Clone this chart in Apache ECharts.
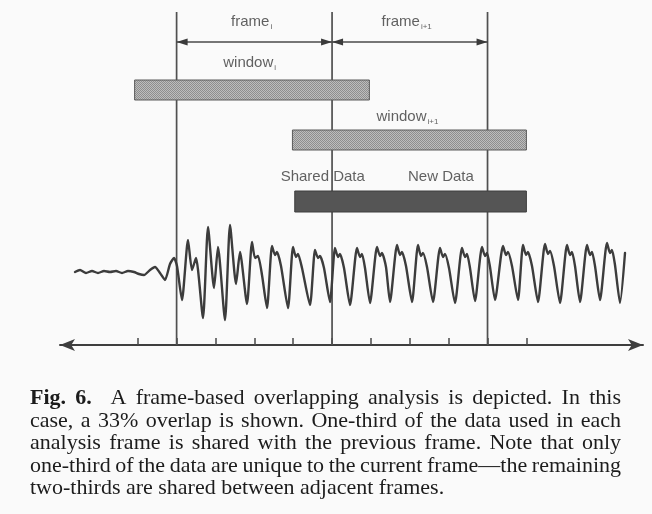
<!DOCTYPE html>
<html><head><meta charset="utf-8">
<script src="https://cdn.jsdelivr.net/npm/echarts@6/dist/echarts.min.js"></script>
<style>html,body{margin:0;padding:0;background:#fafafa}#c{width:652px;height:514px}</style>
</head><body><div id="c"></div>
<script>
// ---------- DATA ----------
// frame axis (tick units)
const tickValues = [0, 1, 2, 3, 4, 5, 6, 7, 8, 9, 10];
const frameEdges = [1, 5, 9];
const frameEdgeTop = 33.3;
const frameSpans = [[1, 5], [5, 9]];
const frameArrowLevel = 30.3;
const windowSpans = [[-0.08, 5.96], [3.98, 10.0]];
const windowLevels = [25.5, 20.5];
const dataBarSpan = [4.04, 10.0];
const dataBarLevel = 14.35;
// text labels
const labelMain = ['frame', 'frame', 'window', 'window', 'Shared Data', 'New Data'];
const labelSub = ['i', 'i+1', 'i', 'i+1', '', ''];
const labelX = [2.93, 6.92, 2.88, 6.94, 4.76, 7.8];
const labelY = [32.3, 32.3, 28.2, 22.8, 16.8, 16.8];
// signal: sample index and amplitude
const signalT = [15,20,26,32,38,44,50,56,62,68,74,79,84,90,95,100,105,110,114,117,122,128,132,136,143,148,154,158,165,170,176,180,187,192,195,198,202,207,
 212,215,217,221,228, 233,236,238,242,250, 255,258,260,264,270, 275,278,280,284,290, 297,300,302,305,310,
 317,320,322,326,330, 337,340,342,346,352, 358,361,363,367,373, 380,383,385,389,395, 402,405,407,410,415,
 422,425,427,430,435, 443,446,448,452,458, 463,466,468,472,478, 485,488,490,494,500, 507,510,512,515,520,
 527,530,532,535,540, 547,550,552,555,560, 565];
const signalA = [0,2,-1,1,-1,1,0,1,-1,1,0,-2,-3,2,5,-1,-8,8,14,6,-28,32,2,14,-46,45,-16,25,-48,47,-12,20,-32,30,14,16,-3,-36,
 26,17,20,6,-36, 25,15,18,4,-33, 22,14,16,4,-30, 24,15,18,4,-33, 24,15,18,4,-31,
 25,16,19,5,-30, 27,17,20,6,-30, 27,16,19,5,-30, 24,15,18,4,-31, 24,15,18,4,-29,
 25,16,19,5,-28, 26,17,20,6,-28, 27,17,20,6,-30, 28,18,21,6,-31, 27,17,20,6,-30,
 27,17,20,6,-28, 29,19,22,7,-31, 19];
// caption
const captionLines = [
  'Fig. 6.  A frame-based overlapping analysis is depicted. In this',
  'case, a 33% overlap is shown. One-third of the data used in each',
  'analysis frame is shared with the previous frame. Note that only',
  'one-third of the data are unique to the current frame\u2014the remaining',
  'two-thirds are shared between adjacent frames.'
];

// ---------- STYLE / LAYOUT ----------
const CAP = {size: 22, family: '"Liberation Serif", "Times New Roman", serif', left: 30, right: 621,
  base: [405, 428, 450, 473, 495], color: '#1c1c1c'};
const mctx = document.createElement('canvas').getContext('2d');
function fontOf(b) { return (b ? 'bold ' : '') + CAP.size + 'px ' + CAP.family; }
function measure(t, b) { mctx.font = fontOf(b); return mctx.measureText(t).width; }
const graphics = [];
captionLines.forEach((line, li) => {
  const words = line.split(' ');
  const bold = words.map((w, i) => li === 0 && i < 2);
  const widths = words.map((w, i) => w ? measure(w, bold[i]) : 0);
  const total = widths.reduce((a, b) => a + b, 0);
  const gaps = words.length - 1;
  const justify = li < captionLines.length - 1;
  const gap = justify ? Math.max(2, (CAP.right - CAP.left - total) / gaps) : measure(' ', false);
  let x = CAP.left;
  words.forEach((w, i) => {
    if (w) graphics.push({type: 'text', x: x, y: CAP.base[li] - 7,
      style: {text: w, font: fontOf(bold[i]), fill: CAP.color, verticalAlign: 'middle', align: 'left'}});
    x += widths[i] + gap;
  });
});

// stipple pattern for the window bars
const pat = document.createElement('canvas'); pat.width = 2; pat.height = 2;
const pc = pat.getContext('2d');
pc.fillStyle = '#bdbdbd'; pc.fillRect(0, 0, 2, 2);
pc.fillStyle = '#8e8e8e'; pc.fillRect(0, 0, 1, 1); pc.fillRect(1, 1, 1, 1);

const chart = echarts.init(document.getElementById('c'), null, {renderer: 'canvas'});
const option = {
  animation: false,
  backgroundColor: '#fafafa',
  grid: {left: 60, right: 9, top: 0, bottom: 169, containLabel: false},
  xAxis: [
    {type: 'value', min: -2, max: 13, position: 'bottom',
     axisLine: {show: true, onZero: false, symbol: ['arrow', 'arrow'], symbolSize: [9, 15],
       lineStyle: {color: '#3e3e3e', width: 2}},
     axisTick: {show: true, inside: true, length: 7, customValues: tickValues,
       lineStyle: {color: '#4a4a4a', width: 1.5}},
     axisLabel: {show: false}, splitLine: {show: false}},
    {type: 'value', min: 0, max: 583, show: false, position: 'top'}
  ],
  yAxis: [
    {type: 'value', min: 0, max: 34.5, show: false},
    {type: 'value', min: -73, max: 272, show: false}
  ],
  graphic: graphics,
  series: [
    { // frame boundary lines
      type: 'custom', xAxisIndex: 0, yAxisIndex: 0,
      data: frameEdges.map(x => [x, 0, frameEdgeTop]),
      renderItem: (params, api) => {
        const p0 = api.coord([api.value(0), api.value(1)]);
        const p1 = api.coord([api.value(0), api.value(2)]);
        return {type: 'line', shape: {x1: p0[0], y1: p0[1], x2: p1[0], y2: p1[1]},
          style: {stroke: '#505050', lineWidth: 1.7}};
      }
    },
    { // frame arrows
      type: 'custom', xAxisIndex: 0, yAxisIndex: 0,
      data: frameSpans.map(s => [s[0], s[1], frameArrowLevel]),
      renderItem: (params, api) => {
        const a = api.coord([api.value(0), api.value(2)]);
        const b = api.coord([api.value(1), api.value(2)]);
        const L = 11, H = 3.5, y = a[1];
        return {type: 'group', children: [
          {type: 'line', shape: {x1: a[0], y1: y, x2: b[0], y2: y}, style: {stroke: '#4a4a4a', lineWidth: 1.5}},
          {type: 'polygon', shape: {points: [[a[0], y], [a[0] + L, y - H], [a[0] + L, y + H]]}, style: {fill: '#3a3a3a'}},
          {type: 'polygon', shape: {points: [[b[0], y], [b[0] - L, y - H], [b[0] - L, y + H]]}, style: {fill: '#3a3a3a'}}
        ]};
      }
    },
    { // window bars
      type: 'custom', xAxisIndex: 0, yAxisIndex: 0,
      data: windowSpans.map((s, i) => [s[0], s[1], windowLevels[i]]),
      renderItem: (params, api) => {
        const a = api.coord([api.value(0), api.value(2)]);
        const b = api.coord([api.value(1), api.value(2)]);
        const h = 20;
        return {type: 'rect', shape: {x: a[0], y: a[1] - h / 2, width: b[0] - a[0], height: h},
          style: {fill: {image: pat, repeat: 'repeat'}, stroke: '#5a5a5a', lineWidth: 1}};
      }
    },
    { // shared / new data bar
      type: 'custom', xAxisIndex: 0, yAxisIndex: 0,
      data: [[dataBarSpan[0], dataBarSpan[1], dataBarLevel]],
      renderItem: (params, api) => {
        const a = api.coord([api.value(0), api.value(2)]);
        const b = api.coord([api.value(1), api.value(2)]);
        const h = 21;
        return {type: 'rect', shape: {x: a[0], y: a[1] - h / 2, width: b[0] - a[0], height: h},
          style: {fill: '#555555', stroke: '#3f3f3f', lineWidth: 1}};
      }
    },
    { // signal
      type: 'line', xAxisIndex: 1, yAxisIndex: 1,
      data: signalT.map((t, i) => [t, signalA[i]]),
      showSymbol: false, smooth: 0.2,
      lineStyle: {color: '#3c3c3c', width: 2.4, join: 'round', cap: 'round'}
    },
    { // labels
      type: 'scatter', xAxisIndex: 0, yAxisIndex: 0, symbolSize: 1,
      itemStyle: {color: 'transparent'},
      data: labelMain.map((m, i) => ({value: [labelX[i], labelY[i]], main: m, sub: labelSub[i]})),
      label: {
        show: true, position: 'inside',
        formatter: p => p.data.sub ? '{m|' + p.data.main + '}{s|' + p.data.sub + '}' : '{m|' + p.data.main + '}',
        rich: {
          m: {fontSize: 15, fontFamily: '"Liberation Sans", Arial, sans-serif', color: '#3a3a3a'},
          s: {fontSize: 8, fontFamily: '"Liberation Sans", Arial, sans-serif', color: '#3a3a3a', padding: [9, 0, 0, 1]}
        }
      }
    }
  ]
};
chart.setOption(option);
</script></body></html>
